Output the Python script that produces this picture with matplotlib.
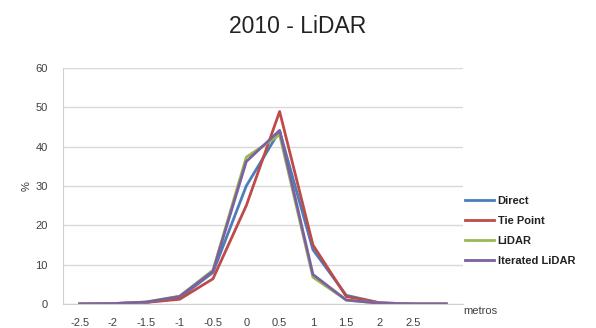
import matplotlib
matplotlib.use("Agg")
import matplotlib.pyplot as plt

CATEGORIES = ["-2.5", "-2", "-1.5", "-1", "-0.5", "0", "0.5", "1", "1.5", "2", "2.5", ""]
DIRECT = [0, 0.1, 0.4, 1.6, 8.0, 30.0, 44.0, 13.8, 2.2, 0.3, 0.0, 0.0]
TIE_POINT = [0, 0.1, 0.4, 1.2, 6.4, 25.0, 48.9, 15.0, 1.9, 0.3, 0.0, 0.0]
LIDAR = [0, 0.1, 0.5, 2.0, 8.6, 37.3, 43.0, 6.8, 1.0, 0.2, 0.0, 0.0]
ITERATED = [0, 0.1, 0.5, 1.9, 8.3, 36.2, 44.1, 7.5, 1.0, 0.2, 0.0, 0.0]

SERIES = [
    ("Direct", DIRECT, "#4a7ebb"),
    ("Tie Point", TIE_POINT, "#be4b48"),
    ("LiDAR", LIDAR, "#98b954"),
    ("Iterated LiDAR", ITERATED, "#7d60a0"),
]

plt.rcParams["font.family"] = ["Liberation Sans", "DejaVu Sans"]

fig = plt.figure(figsize=(5.96, 3.28), dpi=100)
ax = fig.add_axes([0.1057, 0.0732, 0.671, 0.72])

x = list(range(len(CATEGORIES)))
for name, vals, col in SERIES:
    ax.plot(x, vals, color=col, linewidth=2.0, label=name)

ax.set_xlim(-0.5, len(CATEGORIES) - 0.5)
ax.set_ylim(0, 60)
ax.set_yticks(range(0, 61, 10))
ax.set_xticks(x)
ax.set_xticklabels(CATEGORIES)
ax.tick_params(axis="x", length=0, labelsize=8, colors="#404040", pad=10)
ax.tick_params(axis="y", length=0, labelsize=8, colors="#404040", pad=11)
ax.grid(axis="y", color="#d9d9d9", linewidth=1.0)
ax.set_axisbelow(True)
for s in ["top", "right"]:
    ax.spines[s].set_visible(False)
for s in ["left", "bottom"]:
    ax.spines[s].set_color("#d0d0d0")

ax.set_ylabel("%", fontsize=8, rotation=90, labelpad=3, color="#333333")
ax.text(1.0, -0.01, "metros", transform=ax.transAxes, fontsize=8, color="#404040",
        ha="left", va="top")

fig.suptitle("2010 - LiDAR", fontsize=16.5, y=0.955, color="#222222")

leg = ax.legend(loc="center left", bbox_to_anchor=(0.995, 0.31), frameon=False,
                fontsize=8, handlelength=2.6, labelspacing=0.9, handletextpad=0.3,
                borderaxespad=0, prop={"weight": "bold", "size": 8})
for t in leg.get_texts():
    t.set_color("#222222")

fig.savefig("out.png", dpi=100)
